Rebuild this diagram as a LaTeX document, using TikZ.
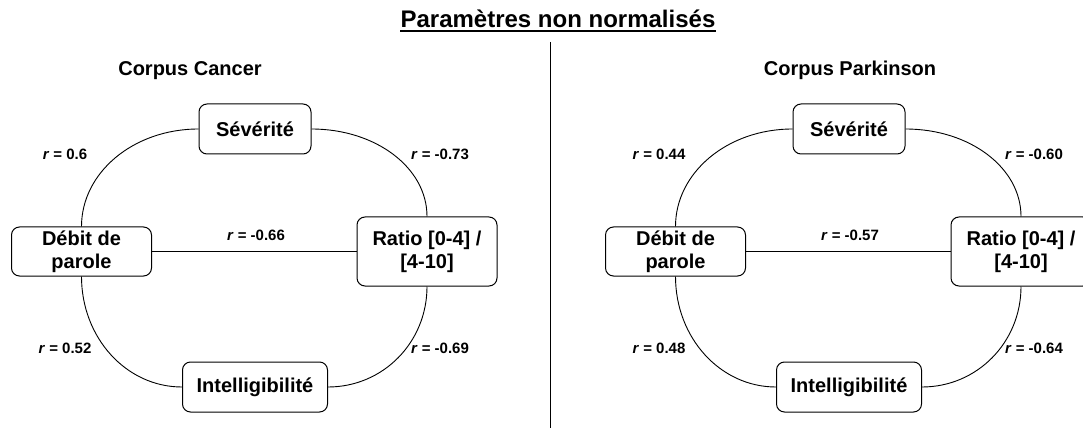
\documentclass[tikz,border=0pt]{standalone}
\usepackage{fontspec}
\setmainfont{Liberation Sans}
\begin{document}
\begin{tikzpicture}[x=1pt,y=-1pt,
  box/.style={draw,rounded corners=8pt,line width=1pt,align=center,inner sep=0pt,
    minimum height=50pt,font=\fontsize{20}{23}\selectfont\bfseries},
  rlab/.style={font=\fontsize{15}{18}\selectfont\bfseries},
  head/.style={anchor=base,inner sep=0pt,font=\fontsize{20}{24}\selectfont\bfseries},
  link/.style={line width=0.9pt}]
  \useasboundingbox (0,0) rectangle (1083,430);
  % title and divider
  \node[head,font=\fontsize{24}{28}\selectfont\bfseries] (title) at (558,28) {Paramètres non normalisés};
  \draw[line width=1.6pt] ([yshift=-3pt]title.base west) -- ([yshift=-3pt]title.base east);
  \coordinate (divtop) at (550,42);
  \coordinate (divbot) at (550,428);
  \draw[line width=0.8pt] (divtop) -- (divbot);
  % one diagram per corpus
  \foreach \dx/\cx/\corpus/\ra/\rb/\rc/\rd/\re/\idx in
    {0/190/Cancer/0.6/-0.73/-0.66/0.52/-0.69/1,
     594/256/Parkinson/0.44/-0.60/-0.57/0.48/-0.64/2}{
    \begin{scope}[xshift=\dx pt]
      \node[head] (corpus\idx) at (\cx,76) {Corpus \corpus};
      \node[box,minimum width=112pt] (sev\idx) at (255,129) {Sévérité};
      \node[box,minimum width=140pt,minimum height=49pt] (deb\idx) at (81.5,251.5) {Débit de\\parole};
      \node[box,minimum width=140pt,minimum height=69pt] (rat\idx) at (427,251.5) {Ratio [0-4] /\\{}[4-10]};
      \node[box,minimum width=145pt] (int\idx) at (255,387) {Intelligibilité};
      \draw[link] (sev\idx.west) .. controls +(-65,0) and +(0,-54) .. (deb\idx.north);
      \draw[link] (sev\idx.east) .. controls +(64,0) and +(0,-49) .. (rat\idx.north);
      \draw[link] (deb\idx.south) .. controls +(0,61) and +(-56,0) .. (int\idx.west);
      \draw[link] (rat\idx.south) .. controls +(0,56) and +(55,0) .. (int\idx.east);
      \draw[link] (deb\idx.east) -- (rat\idx.west);
      \node[rlab] (ra\idx) at (65,154) {\textit{r} = \ra};
      \node[rlab] (rb\idx) at (440,154) {\textit{r} = \rb};
      \node[rlab] (rc\idx) at (256,235) {\textit{r} = \rc};
      \node[rlab] (rd\idx) at (65,348) {\textit{r} = \rd};
      \node[rlab] (re\idx) at (440,348) {\textit{r} = \re};
    \end{scope}
  }
\end{tikzpicture}
\end{document}
